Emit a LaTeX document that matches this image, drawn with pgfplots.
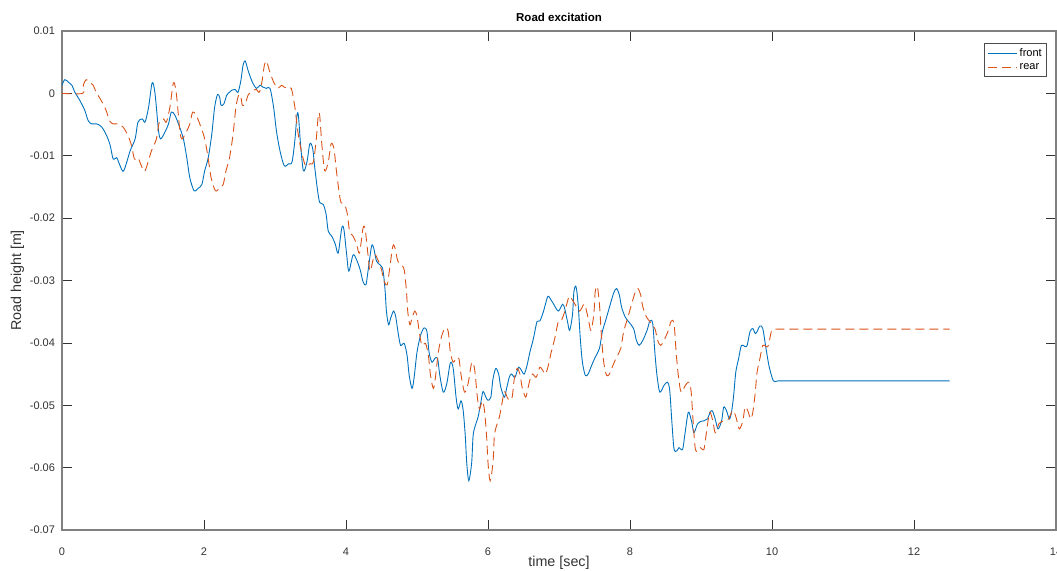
\documentclass[border=0pt]{standalone}
\usepackage{fontspec}
\setmainfont{Liberation Sans}
\usepackage{pgfplots}
\pgfplotsset{compat=1.18}
\usepackage{pgfplotstable}
\definecolor{mblue}{rgb}{0,0.447,0.741}
\definecolor{morange}{rgb}{0.85,0.325,0.098}
\definecolor{axgray}{gray}{0.5}

\pgfplotstableread{
t y
0.00 0.0013
0.04 0.0022
0.10 0.0017
0.14 0.0013
0.18 0.0002
0.25 -0.0011
0.32 -0.0027
0.37 -0.0044
0.42 -0.0049
0.49 -0.0049
0.56 -0.0054
0.63 -0.0068
0.68 -0.0084
0.72 -0.0105
0.77 -0.0103
0.80 -0.0111
0.86 -0.0125
0.91 -0.0111
0.96 -0.0092
1.03 -0.0073
1.07 -0.0046
1.13 -0.0041
1.17 -0.0046
1.22 -0.0022
1.27 0.0017
1.31 0.0000
1.36 -0.0060
1.39 -0.0073
1.45 -0.0062
1.50 -0.0049
1.54 -0.0030
1.59 -0.0035
1.65 -0.0052
1.71 -0.0073
1.76 -0.0105
1.80 -0.0135
1.86 -0.0156
1.92 -0.0152
1.97 -0.0146
2.01 -0.0124
2.06 -0.0103
2.11 -0.0065
2.15 -0.0022
2.19 -0.0002
2.22 -0.0006
2.24 -0.0019
2.28 -0.0017
2.32 -0.0003
2.36 0.0002
2.39 0.0005
2.44 0.0006
2.48 0.0002
2.52 0.0021
2.55 0.0045
2.58 0.0052
2.62 0.0037
2.66 0.0024
2.69 0.0016
2.74 0.0008
2.79 0.0013
2.83 0.0010
2.88 0.0008
2.93 0.0008
2.98 -0.0022
3.02 -0.0060
3.07 -0.0092
3.13 -0.0116
3.19 -0.0113
3.24 -0.0110
3.28 -0.0075
3.31 -0.0035
3.33 -0.0036
3.36 -0.0082
3.40 -0.0124
3.45 -0.0110
3.49 -0.0081
3.53 -0.0088
3.56 -0.0119
3.60 -0.0156
3.63 -0.0175
3.68 -0.0178
3.72 -0.0194
3.75 -0.0221
3.80 -0.0229
3.85 -0.0242
3.89 -0.0256
3.94 -0.0216
3.97 -0.0218
4.01 -0.0259
4.04 -0.0285
4.10 -0.0259
4.15 -0.0267
4.20 -0.0283
4.24 -0.0302
4.28 -0.0307
4.31 -0.0285
4.36 -0.0245
4.39 -0.0248
4.43 -0.0269
4.48 -0.0275
4.52 -0.0283
4.55 -0.0315
4.57 -0.0350
4.60 -0.0371
4.63 -0.0360
4.67 -0.0349
4.70 -0.0358
4.74 -0.0388
4.77 -0.0404
4.82 -0.0401
4.86 -0.0420
4.89 -0.0452
4.93 -0.0473
4.96 -0.0455
5.00 -0.0415
5.05 -0.0388
5.10 -0.0376
5.14 -0.0382
5.17 -0.0415
5.21 -0.0431
5.25 -0.0425
5.29 -0.0425
5.32 -0.0451
5.37 -0.0479
5.42 -0.0465
5.47 -0.0432
5.51 -0.0441
5.55 -0.0487
5.58 -0.0506
5.62 -0.0493
5.65 -0.0508
5.68 -0.0549
5.70 -0.0592
5.73 -0.0621
5.77 -0.0592
5.79 -0.0549
5.82 -0.0533
5.86 -0.0519
5.90 -0.0495
5.93 -0.0478
5.97 -0.0487
6.00 -0.0492
6.04 -0.0487
6.07 -0.0458
6.11 -0.0441
6.15 -0.0450
6.18 -0.0471
6.23 -0.0487
6.26 -0.0474
6.30 -0.0455
6.33 -0.0450
6.38 -0.0455
6.43 -0.0439
6.47 -0.0444
6.51 -0.0450
6.55 -0.0436
6.59 -0.0415
6.64 -0.0393
6.69 -0.0366
6.73 -0.0365
6.78 -0.0350
6.84 -0.0326
6.87 -0.0328
6.92 -0.0337
6.99 -0.0349
7.05 -0.0338
7.08 -0.0345
7.12 -0.0366
7.15 -0.0380
7.19 -0.0355
7.21 -0.0318
7.24 -0.0310
7.27 -0.0339
7.30 -0.0393
7.33 -0.0431
7.37 -0.0452
7.41 -0.0450
7.46 -0.0436
7.51 -0.0423
7.57 -0.0409
7.61 -0.0382
7.66 -0.0363
7.72 -0.0339
7.77 -0.0320
7.81 -0.0313
7.85 -0.0323
7.88 -0.0342
7.93 -0.0358
7.98 -0.0366
8.05 -0.0377
8.09 -0.0396
8.13 -0.0404
8.18 -0.0396
8.24 -0.0380
8.28 -0.0365
8.32 -0.0369
8.35 -0.0415
8.38 -0.0452
8.42 -0.0479
8.48 -0.0468
8.53 -0.0463
8.56 -0.0477
8.59 -0.0527
8.62 -0.0570
8.66 -0.0573
8.69 -0.0568
8.74 -0.0571
8.77 -0.0549
8.81 -0.0517
8.83 -0.0511
8.87 -0.0527
8.90 -0.0544
8.95 -0.0530
8.99 -0.0526
9.04 -0.0525
9.09 -0.0522
9.13 -0.0511
9.16 -0.0509
9.20 -0.0522
9.24 -0.0538
9.29 -0.0525
9.32 -0.0503
9.36 -0.0509
9.40 -0.0522
9.43 -0.0511
9.46 -0.0484
9.49 -0.0447
9.53 -0.0425
9.57 -0.0404
9.62 -0.0406
9.65 -0.0404
9.69 -0.0382
9.73 -0.0377
9.77 -0.0385
9.83 -0.0373
9.87 -0.0377
9.91 -0.0405
9.96 -0.0438
10.02 -0.0461
10.08 -0.0461
10.16 -0.0461
10.30 -0.0461
10.55 -0.0461
11.00 -0.0461
11.75 -0.0461
12.50 -0.0461
}\front

\pgfplotstableread{
t y
0.00 0.0000
0.29 0.0000
0.30 0.0013
0.34 0.0022
0.40 0.0017
0.44 0.0013
0.48 0.0002
0.55 -0.0011
0.62 -0.0027
0.67 -0.0044
0.72 -0.0049
0.79 -0.0049
0.86 -0.0054
0.93 -0.0068
0.98 -0.0084
1.02 -0.0105
1.07 -0.0103
1.10 -0.0111
1.16 -0.0125
1.21 -0.0111
1.26 -0.0092
1.33 -0.0073
1.37 -0.0046
1.43 -0.0041
1.47 -0.0046
1.52 -0.0022
1.57 0.0017
1.61 0.0000
1.66 -0.0060
1.69 -0.0073
1.75 -0.0062
1.80 -0.0049
1.84 -0.0030
1.89 -0.0035
1.95 -0.0052
2.01 -0.0073
2.06 -0.0105
2.10 -0.0135
2.16 -0.0156
2.22 -0.0152
2.27 -0.0146
2.31 -0.0124
2.36 -0.0103
2.41 -0.0065
2.45 -0.0022
2.49 -0.0002
2.52 -0.0006
2.54 -0.0019
2.58 -0.0017
2.62 -0.0003
2.66 0.0002
2.69 0.0005
2.74 0.0006
2.78 0.0002
2.82 0.0021
2.85 0.0045
2.88 0.0052
2.92 0.0037
2.96 0.0024
2.99 0.0016
3.04 0.0008
3.09 0.0013
3.13 0.0010
3.18 0.0008
3.23 0.0008
3.28 -0.0022
3.32 -0.0060
3.37 -0.0092
3.43 -0.0116
3.49 -0.0113
3.54 -0.0110
3.58 -0.0075
3.61 -0.0035
3.63 -0.0036
3.66 -0.0082
3.70 -0.0124
3.75 -0.0110
3.79 -0.0081
3.83 -0.0088
3.86 -0.0119
3.90 -0.0156
3.93 -0.0175
3.98 -0.0178
4.02 -0.0194
4.05 -0.0221
4.10 -0.0229
4.15 -0.0242
4.19 -0.0256
4.24 -0.0216
4.27 -0.0218
4.31 -0.0259
4.34 -0.0285
4.40 -0.0259
4.45 -0.0267
4.50 -0.0283
4.54 -0.0302
4.58 -0.0307
4.61 -0.0285
4.66 -0.0245
4.69 -0.0248
4.73 -0.0269
4.78 -0.0275
4.82 -0.0283
4.85 -0.0315
4.87 -0.0350
4.90 -0.0371
4.93 -0.0360
4.97 -0.0349
5.00 -0.0358
5.04 -0.0388
5.07 -0.0404
5.12 -0.0401
5.16 -0.0420
5.19 -0.0452
5.23 -0.0473
5.26 -0.0455
5.30 -0.0415
5.35 -0.0388
5.40 -0.0376
5.44 -0.0382
5.47 -0.0415
5.51 -0.0431
5.55 -0.0425
5.59 -0.0425
5.62 -0.0451
5.67 -0.0479
5.72 -0.0465
5.77 -0.0432
5.81 -0.0441
5.85 -0.0487
5.88 -0.0506
5.92 -0.0493
5.95 -0.0508
5.98 -0.0549
6.00 -0.0592
6.03 -0.0621
6.07 -0.0592
6.09 -0.0549
6.12 -0.0533
6.16 -0.0519
6.20 -0.0495
6.23 -0.0478
6.27 -0.0487
6.30 -0.0492
6.34 -0.0487
6.37 -0.0458
6.41 -0.0441
6.45 -0.0450
6.48 -0.0471
6.53 -0.0487
6.56 -0.0474
6.60 -0.0455
6.63 -0.0450
6.68 -0.0455
6.73 -0.0439
6.77 -0.0444
6.81 -0.0450
6.85 -0.0436
6.89 -0.0415
6.94 -0.0393
6.99 -0.0366
7.03 -0.0365
7.08 -0.0350
7.14 -0.0326
7.17 -0.0328
7.22 -0.0337
7.29 -0.0349
7.35 -0.0338
7.38 -0.0345
7.42 -0.0366
7.45 -0.0380
7.49 -0.0355
7.51 -0.0318
7.54 -0.0310
7.57 -0.0339
7.60 -0.0393
7.63 -0.0431
7.67 -0.0452
7.71 -0.0450
7.76 -0.0436
7.81 -0.0423
7.87 -0.0409
7.91 -0.0382
7.96 -0.0363
8.02 -0.0339
8.07 -0.0320
8.11 -0.0313
8.15 -0.0323
8.18 -0.0342
8.23 -0.0358
8.28 -0.0366
8.35 -0.0377
8.39 -0.0396
8.43 -0.0404
8.48 -0.0396
8.54 -0.0380
8.58 -0.0365
8.62 -0.0369
8.65 -0.0415
8.68 -0.0452
8.72 -0.0479
8.78 -0.0468
8.83 -0.0463
8.86 -0.0477
8.89 -0.0527
8.92 -0.0570
8.96 -0.0573
8.99 -0.0568
9.04 -0.0571
9.07 -0.0549
9.11 -0.0517
9.13 -0.0511
9.17 -0.0527
9.20 -0.0544
9.25 -0.0530
9.29 -0.0526
9.34 -0.0525
9.39 -0.0522
9.43 -0.0511
9.46 -0.0509
9.50 -0.0522
9.54 -0.0538
9.59 -0.0525
9.62 -0.0503
9.66 -0.0509
9.70 -0.0522
9.73 -0.0511
9.76 -0.0484
9.79 -0.0447
9.83 -0.0425
9.87 -0.0404
9.92 -0.0406
9.95 -0.0404
9.99 -0.0382
10.03 -0.0378
10.09 -0.0378
10.17 -0.0378
10.30 -0.0378
10.55 -0.0378
11.00 -0.0378
11.75 -0.0378
12.50 -0.0378
}\rear

\begin{document}
\begin{tikzpicture}
\begin{axis}[
  name=ax, at={(0,0)}, anchor=south west,
  scale only axis, width=994pt, height=499pt,
  xmin=0, xmax=14, ymin=-0.07, ymax=0.01,
  xtick={0,2,4,6,8,10,12,14},
  ytick={-0.07,-0.06,-0.05,-0.04,-0.03,-0.02,-0.01,0,0.01},
  yticklabels={-0.07,-0.06,-0.05,-0.04,-0.03,-0.02,-0.01,0,0.01},
  scaled y ticks=false,
  xtick pos=both, ytick pos=both,
  xticklabel pos=bottom, yticklabel pos=left,
  tick align=inside, major tick length=10pt,
  axis line style={axgray, line width=1.1pt},
  every tick/.style={black!80, line width=0.6pt},
  /pgf/number format/assume math mode=true,
  tick label style={font=\fontsize{11}{13}\selectfont, text=black!80},
  xticklabel style={yshift=-14pt},
  yticklabel style={xshift=-3.5pt},
  title={Road excitation},
  title style={font=\bfseries\fontsize{11.5}{13}\selectfont, at={(axis description cs:0.5,1)}, anchor=base, yshift=3pt},
  xlabel={time [sec]},
  xlabel style={font=\fontsize{14.3}{16}\selectfont, text=black!80, at={(axis description cs:0.5,0)}, anchor=base, yshift=-36pt},
  ylabel={Road height [m]},
  ylabel style={font=\fontsize{14.3}{16}\selectfont, text=black!80, at={(axis description cs:-0.0448,0.5)}, anchor=center},
  legend style={at={(axis description cs:1,1)}, anchor=north east, xshift=-9pt, yshift=-12pt,
    font=\fontsize{11}{13}\selectfont, draw=black!70, line width=0.6pt, inner xsep=3pt, inner ysep=3pt,
    row sep=2pt, cells={anchor=west}},
  legend image code/.code={\draw[#1] (0pt,0pt) -- (29pt,0pt);},
]
\addplot[mblue, line width=0.9pt, smooth, tension=0.5] table[x=t,y=y] {\front};
\addlegendentry{front}
\addplot[morange, line width=0.9pt, dash pattern=on 9pt off 5pt, smooth, tension=0.5] table[x=t,y=y] {\rear};
\addlegendentry{rear}
\end{axis}
\pgfresetboundingbox
\useasboundingbox ([xshift=-62pt,yshift=-40pt]ax.south west) rectangle ([xshift=1pt,yshift=31pt]ax.north east);
\end{tikzpicture}
\end{document}
